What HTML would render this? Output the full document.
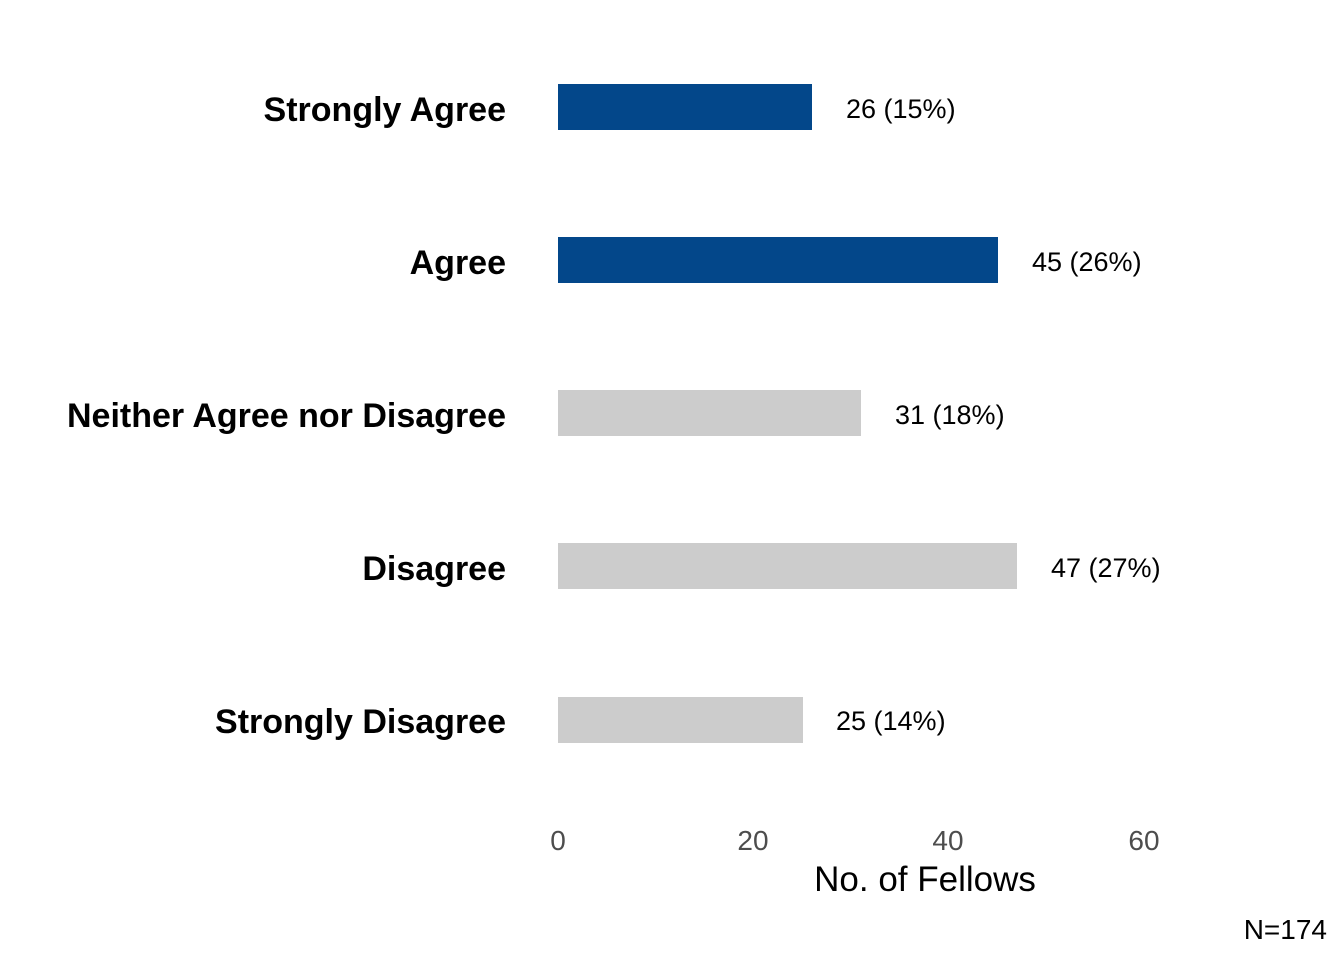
<!DOCTYPE html>
<html><head><meta charset="utf-8"><style>
body{margin:0;background:#fff;}
svg text{font-family:"Liberation Sans",sans-serif;}
</style></head><body>
<svg width="1344" height="960" xmlns="http://www.w3.org/2000/svg">
<g font-size="34" font-weight="bold" text-anchor="end" fill="#000">
<text x="506" y="121">Strongly Agree</text>
<text x="506" y="274">Agree</text>
<text x="506" y="427">Neither Agree nor Disagree</text>
<text x="506" y="580">Disagree</text>
<text x="506" y="733">Strongly Disagree</text>
</g>
<rect x="558" y="84" width="254" height="46" fill="#03478a"/>
<rect x="558" y="237" width="440" height="46" fill="#03478a"/>
<rect x="558" y="390" width="303" height="46" fill="#cccccc"/>
<rect x="558" y="543" width="459" height="46" fill="#cccccc"/>
<rect x="558" y="697" width="245" height="46" fill="#cccccc"/>
<g font-size="27" fill="#000">
<text x="846" y="118">26 (15%)</text>
<text x="1032" y="271">45 (26%)</text>
<text x="895" y="424">31 (18%)</text>
<text x="1051" y="577">47 (27%)</text>
<text x="836" y="730">25 (14%)</text>
</g>
<g font-size="28" fill="#4d4d4d" text-anchor="middle">
<text x="558" y="850">0</text>
<text x="753" y="850">20</text>
<text x="948" y="850">40</text>
<text x="1144" y="850">60</text>
</g>
<text x="925" y="891" font-size="35" text-anchor="middle" fill="#000">No. of Fellows</text>
<text x="1327" y="939" font-size="28" text-anchor="end" fill="#000">N=174</text>
</svg>
</body></html>
